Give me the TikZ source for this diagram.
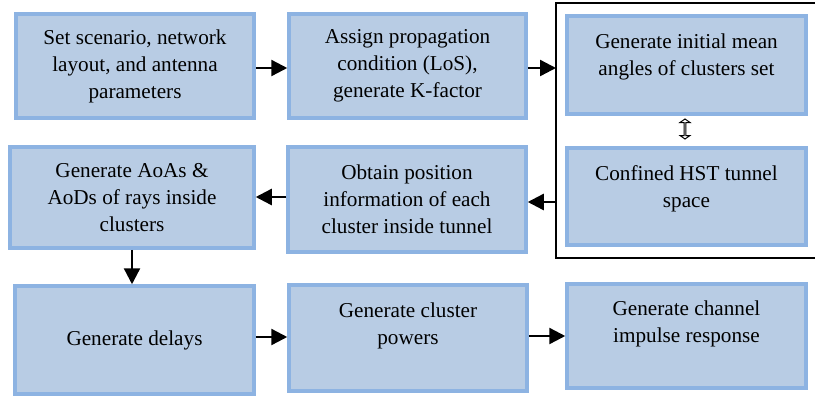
\documentclass[tikz,border=0pt]{standalone}
\usepackage{fontspec}
\setmainfont{Liberation Serif}
\usetikzlibrary{arrows.meta,shapes.arrows,calc}

\definecolor{boxfill}{RGB}{184,204,228}
\definecolor{boxedge}{RGB}{141,179,226}

\tikzset{
  stepbox/.style={rectangle, draw=boxedge, fill=boxfill, line width=3.5pt,
    inner sep=0pt, align=center, text=black,
    font=\rmfamily\fontsize{21.2}{27}\selectfont},
  boxtext/.style={align=center, text=black, inner sep=0pt,
    font=\rmfamily\fontsize{21.2}{27}\selectfont},
  flow/.style={draw=black, line width=2.4pt,
    -{Triangle[length=16pt,width=16pt]}},
  linkarrow/.style={double arrow, draw=black, fill=white, line width=1pt,
    shape border rotate=90, minimum height=20pt, minimum width=10pt,
    double arrow head extend=2.5pt, double arrow tip angle=110, inner sep=0pt}
}

\begin{document}
\begin{tikzpicture}[x=1pt,y=-1pt]
\useasboundingbox (0,0) rectangle (815,397);

% first row
\node[stepbox, minimum width=238pt, minimum height=104pt] (A) at (135,66)
  {Set scenario, network\\layout, and antenna\\parameters};
\node[stepbox, minimum width=237pt, minimum height=104pt] (B) at (407.5,66)
  {Assign propagation\\condition (LoS),\\generate K-factor};

% frame around the tunnel geometry steps
\coordinate (frameNW) at (556,3);
\coordinate (frameSW) at (556,258);
\draw[line width=2pt] (815,3) -- (frameNW) -- (frameSW) -- (815,258);

\node[stepbox, minimum width=239pt, minimum height=98pt,
  label={[boxtext, yshift=8pt]center:Generate initial mean\\angles of clusters set}]
  (C) at (686.5,65) {};
\node[stepbox, minimum width=239pt, minimum height=97pt,
  label={[boxtext, yshift=8pt]center:Confined HST tunnel\\space}]
  (D) at (686.5,196.5) {};
\node[linkarrow] (CD) at ($(C.south)!0.5!(D.north)+(-1.5,-2)$) {};

% second row
\node[stepbox, minimum width=244pt, minimum height=101pt] (E) at (132,197.5)
  {Generate AoAs \&\\AoDs of rays inside\\clusters};
\node[stepbox, minimum width=238pt, minimum height=105pt] (F) at (407,199.5)
  {Obtain position\\information of each\\cluster inside tunnel};

% third row
\node[stepbox, minimum width=239pt, minimum height=108pt] (G) at (134.5,340)
  {Generate delays};
\node[stepbox, minimum width=238pt, minimum height=106pt,
  label={[boxtext, yshift=12.5pt]center:Generate cluster\\powers}]
  (H) at (408,338) {};
\node[stepbox, minimum width=239pt, minimum height=104pt,
  label={[boxtext, yshift=12.5pt]center:Generate channel\\impulse response}]
  (I) at (686.5,336) {};

% connectors
\draw[flow] ($(A.east)+(0,2)$) -- ($(B.west)+(0,2)$);
\draw[flow] ($(B.east)+(0,2)$) -- ($(B.east -| frameNW)+(0,2)$);
\draw[flow] ($(frameSW |- F.east)+(0,2.5)$) -- ($(F.east)+(0,2.5)$);
\draw[flow] ($(F.west)+(0,-2.5)$) -- ($(E.east |- F.west)+(0,-2.5)$);
\draw[flow] (E.south) -- (E.south |- G.north);
\draw[flow] ($(G.east)+(0,-3)$) -- ($(H.west |- G.east)+(0,-3)$);
\draw[flow] ($(H.east)+(0,-2)$) -- ($(I.west |- H.east)+(0,-2)$);
\end{tikzpicture}
\end{document}
